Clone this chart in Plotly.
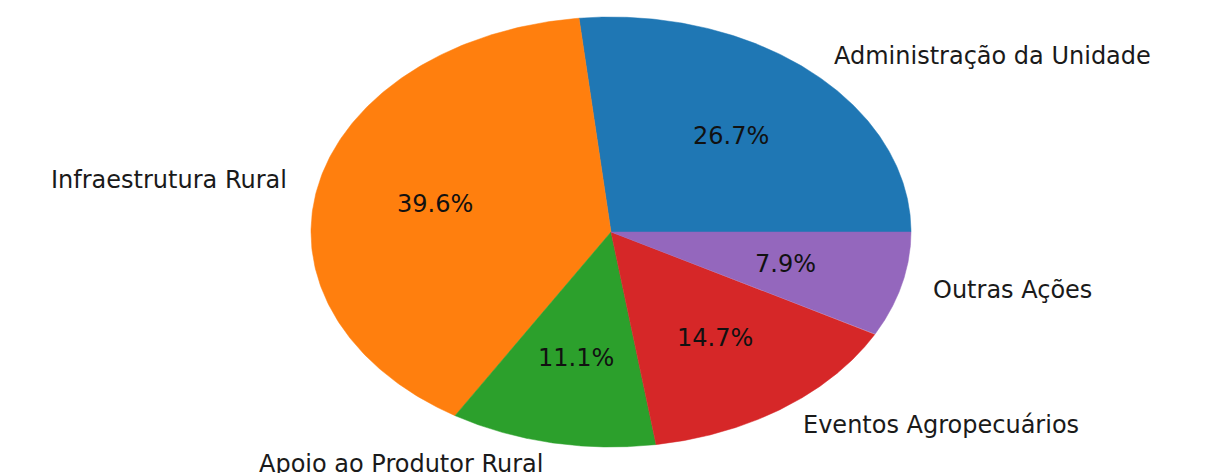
import numpy as np
import plotly.graph_objects as go

categories = ["Administração da Unidade", "Infraestrutura Rural", "Apoio ao Produtor Rural",
              "Eventos Agropecuários", "Outras Ações"]
values = [26.7, 39.6, 11.1, 14.7, 7.9]
colors = ["#1f77b4", "#ff7f0e", "#2ca02c", "#d62728", "#9467bd"]

W, H = 1208, 473
cx, cy, rx, ry = 611, 232, 300, 215  # pie placement in pixels

fig = go.Figure()
total = sum(values)
start = 0.0
ann = []
for cat, v, c in zip(categories, values, colors):
    span = 360.0 * v / total
    th = np.radians(np.linspace(start, start + span, 200))
    xs = np.concatenate([[0], np.cos(th), [0]])
    ys = np.concatenate([[0], np.sin(th), [0]])
    fig.add_trace(go.Scatter(x=xs, y=ys, mode="lines", fill="toself", fillcolor=c,
                             line=dict(color=c, width=0.5), hoverinfo="text",
                             text=cat, showlegend=False))
    mid = np.radians(start + span / 2)
    lx, ly = 1.1 * np.cos(mid), 1.1 * np.sin(mid)
    ann.append(dict(x=lx, y=ly, text=cat, showarrow=False,
                    xanchor="left" if lx > 0 else "right", yanchor="middle",
                    font=dict(family="DejaVu Sans", size=24, color="#1a1a1a")))
    ann.append(dict(x=0.6 * np.cos(mid), y=0.6 * np.sin(mid), text=f"{v:.1f}%",
                    showarrow=False, xanchor="center", yanchor="middle",
                    font=dict(family="DejaVu Sans", size=24, color="#111111")))
    start += span

fig.update_layout(
    width=W, height=H, margin=dict(l=0, r=0, t=0, b=0),
    paper_bgcolor="white", plot_bgcolor="white",
    xaxis=dict(range=[-cx / rx, (W - cx) / rx], visible=False, fixedrange=True),
    yaxis=dict(range=[-(H - cy) / ry, cy / ry], visible=False, fixedrange=True),
    annotations=ann,
)
fig.write_html("out.html", config={"displayModeBar": False})

with open("out.html", encoding="utf-8") as f:
    html = f.read()
html = html.replace("<body>", '<body style="margin:0;overflow:hidden">', 1)
with open("out.html", "w", encoding="utf-8") as f:
    f.write(html)
